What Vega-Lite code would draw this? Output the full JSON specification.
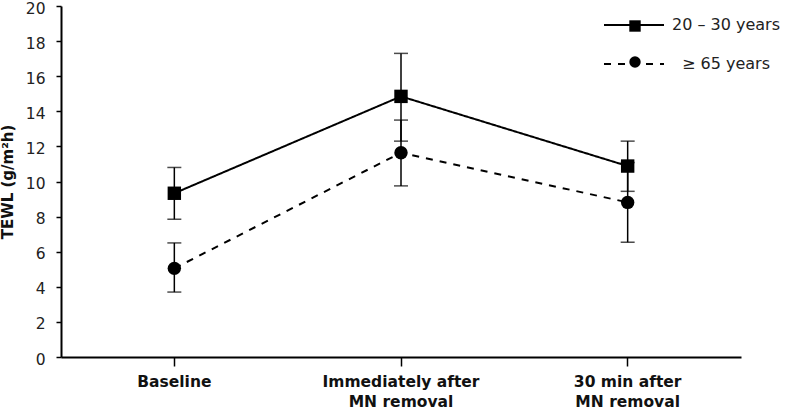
{
  "$schema": "https://vega.github.io/schema/vega-lite/v6.json",
  "width": 680,
  "height": 351,
  "autosize": {"type": "none"},
  "padding": {"left": 61, "top": 6, "right": 47, "bottom": 54},
  "background": "white",
  "config": {
    "font": "DejaVu Sans",
    "view": {"stroke": null},
    "axisY": {
      "labelOverlap": false,
      "grid": false,
      "labelFont": "DejaVu Sans",
      "labelFontSize": 15.5,
      "labelColor": "#222",
      "labelPadding": 11,
      "labelOffset": 2,
      "tickSize": 5,
      "tickColor": "black",
      "tickWidth": 1.5,
      "domainColor": "black",
      "domainWidth": 2,
      "titleFont": "DejaVu Sans",
      "titleFontSize": 15,
      "titleFontWeight": "bold",
      "titleColor": "#111",
      "titlePadding": 10
    }
  },
  "data": {
    "values": [
      {"time": "Baseline", "group": "20 – 30 years", "cohort": "20 – 30 years", "mean": 9.33, "lo": 7.85, "hi": 10.8},
      {"time": "Immediately after|MN removal", "group": "20 – 30 years", "cohort": "20 – 30 years", "mean": 14.85, "lo": 12.3, "hi": 17.3},
      {"time": "30 min after|MN removal", "group": "20 – 30 years", "cohort": "20 – 30 years", "mean": 10.88, "lo": 9.44, "hi": 12.3},
      {"time": "Baseline", "group": "≥ 65 years", "cohort": "≥ 65 years", "mean": 5.05, "lo": 3.7, "hi": 6.5},
      {"time": "Immediately after|MN removal", "group": "≥ 65 years", "cohort": "≥ 65 years", "mean": 11.64, "lo": 9.75, "hi": 13.5},
      {"time": "30 min after|MN removal", "group": "≥ 65 years", "cohort": "≥ 65 years", "mean": 8.81, "lo": 6.54, "hi": 11.08}
    ]
  },
  "encoding": {
    "x": {
      "field": "time",
      "type": "nominal",
      "sort": null,
      "scale": {"domain": ["Baseline", "Immediately after|MN removal", "30 min after|MN removal"]},
      "axis": {
        "title": null,
        "labelAngle": 0,
        "labelExpr": "split(datum.value, '|')",
        "labelFont": "DejaVu Sans",
        "labelFontSize": 15.5,
        "labelFontWeight": "bold",
        "labelColor": "#111",
        "labelLineHeight": 20,
        "labelPadding": 8,
        "tickSize": 9,
        "tickColor": "black",
        "tickWidth": 1.5,
        "domainColor": "black",
        "domainWidth": 2
      }
    }
  },
  "layer": [
    {
      "mark": {"type": "line", "color": "black", "strokeWidth": 2},
      "encoding": {
        "y": {"field": "mean", "type": "quantitative", "scale": {"domain": [0, 20]},
          "axis": {"title": "TEWL (g/m²h)", "tickCount": 10, "labelOverlap": false}},
        "detail": {"field": "group"},
        "strokeDash": {
          "field": "group",
          "type": "nominal",
          "scale": {"range": [[1, 0], [7, 7]]},
          "legend": {
            "title": null,
            "orient": "none",
            "legendX": 542,
            "legendY": -12,
            "padding": 0,
            "symbolType": "stroke",
            "symbolSize": 3600,
            "symbolStrokeWidth": 2,
            "symbolStrokeColor": "black",
            "symbolOpacity": 1,
            "labelAlign": "center",
            "labelOffset": 61,
            "labelFont": "DejaVu Sans",
            "labelFontSize": 16,
            "labelColor": "#222",
            "rowPadding": -1
          }
        }
      }
    },
    {
      "mark": {"type": "rule", "color": "black", "strokeWidth": 1.5},
      "encoding": {
        "y": {"field": "lo", "type": "quantitative", "axis": {"title": "TEWL (g/m²h)", "tickCount": 10, "labelOverlap": false}},
        "y2": {"field": "hi"}
      }
    },
    {
      "mark": {"type": "tick", "color": "black", "size": 14, "thickness": 1.5},
      "encoding": {"y": {"field": "lo", "type": "quantitative", "axis": {"title": "TEWL (g/m²h)", "tickCount": 10, "labelOverlap": false}}}
    },
    {
      "mark": {"type": "tick", "color": "black", "size": 14, "thickness": 1.5},
      "encoding": {"y": {"field": "hi", "type": "quantitative", "axis": {"title": "TEWL (g/m²h)", "tickCount": 10, "labelOverlap": false}}}
    },
    {
      "mark": {"type": "point", "filled": true, "color": "black", "size": 180, "opacity": 1},
      "encoding": {
        "y": {"field": "mean", "type": "quantitative", "axis": {"title": "TEWL (g/m²h)", "tickCount": 10, "labelOverlap": false}},
        "shape": {
          "field": "cohort",
          "type": "nominal",
          "scale": {"range": ["square", "circle"]},
          "legend": {
            "title": null,
            "orient": "none",
            "legendX": 566,
            "legendY": 12,
            "padding": 0,
            "symbolSize": 130,
            "symbolFillColor": "black",
            "symbolStrokeWidth": 0,
            "symbolOpacity": 1,
            "labelAlign": "center",
            "labelOffset": 61,
            "labelFont": "DejaVu Sans",
            "labelFontSize": 16,
            "labelOpacity": 0,
            "rowPadding": 20
          }
        }
      }
    }
  ]
}
